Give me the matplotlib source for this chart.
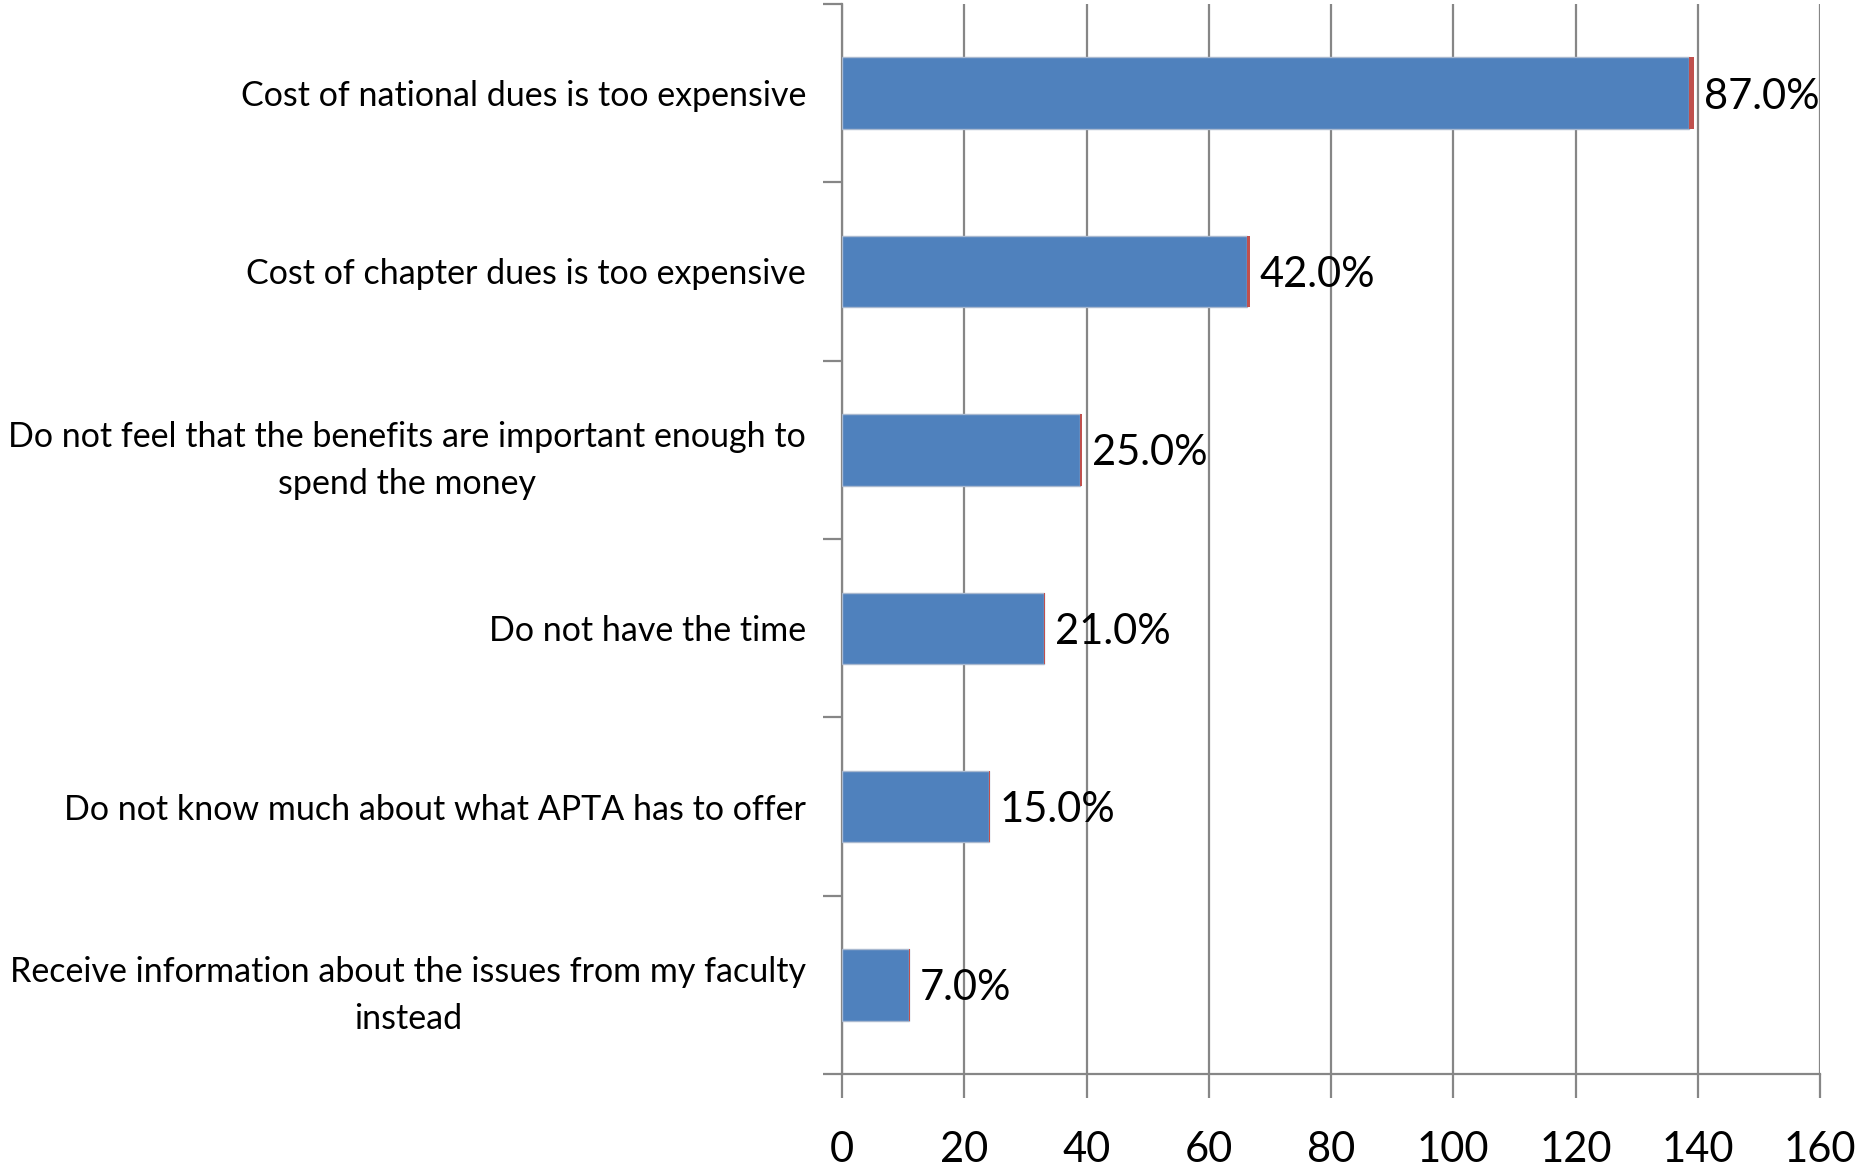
import numpy as np
import matplotlib
matplotlib.use("Agg")
import matplotlib.pyplot as plt

plt.rcParams['font.family'] = ['Lato', 'DejaVu Sans']

reasons = ["Cost of national dues is too expensive",
           "Cost of chapter dues is too expensive",
           "Do not feel that the benefits are important enough to\nspend the money",
           "Do not have the time",
           "Do not know much about what APTA has to offer",
           "Receive information about the issues from my faculty\ninstead"]
counts = [138.5, 66.3, 39, 33, 24, 11]
pct = [0.87, 0.42, 0.25, 0.21, 0.15, 0.07]

fig = plt.figure(figsize=(18.59, 11.71), dpi=100)
ax = fig.add_axes([0.453, 0.0828, 0.526, 0.9138])

y = np.arange(len(reasons))
grey = '#868686'
ax.barh(y, counts, height=0.4, color='#4F81BD', edgecolor='#A9B9D0', linewidth=1, zorder=3)
ax.barh(y, pct, left=counts, height=0.4, color='#C0504D', linewidth=0, zorder=3)

for yi, c, p in zip(y, counts, pct):
    ax.text(c + p + 1.6, yi + 0.02, f"{p*100:.1f}%", va='center', ha='left', fontsize=30, zorder=4)

ax.set_xlim(0, 160)
ax.set_ylim(len(reasons) - 0.5, -0.5)
ax.set_xticks(np.arange(0, 161, 20))
ax.xaxis.grid(True, color=grey, linewidth=1.6, zorder=0)

# category ticks sit between the bars
ax.set_yticks(np.arange(-0.5, len(reasons), 1.0))
ax.set_yticklabels([])
ax.set_yticks(y, minor=True)
ax.set_yticklabels(reasons, minor=True, fontsize=24.5, ha='right',
                   multialignment='center', linespacing=1.6)
ax.tick_params(axis='y', which='minor', length=0, pad=26)
ax.tick_params(axis='y', which='major', length=14, width=1.6, color=grey, direction='out')
ax.tick_params(axis='x', length=17, width=1.6, color=grey, direction='out', labelsize=30, pad=24)

for s in ['top', 'right']:
    ax.spines[s].set_visible(False)
for s in ['left', 'bottom']:
    ax.spines[s].set_color(grey)
    ax.spines[s].set_linewidth(1.6)

fig.savefig("out.png", dpi=100)
